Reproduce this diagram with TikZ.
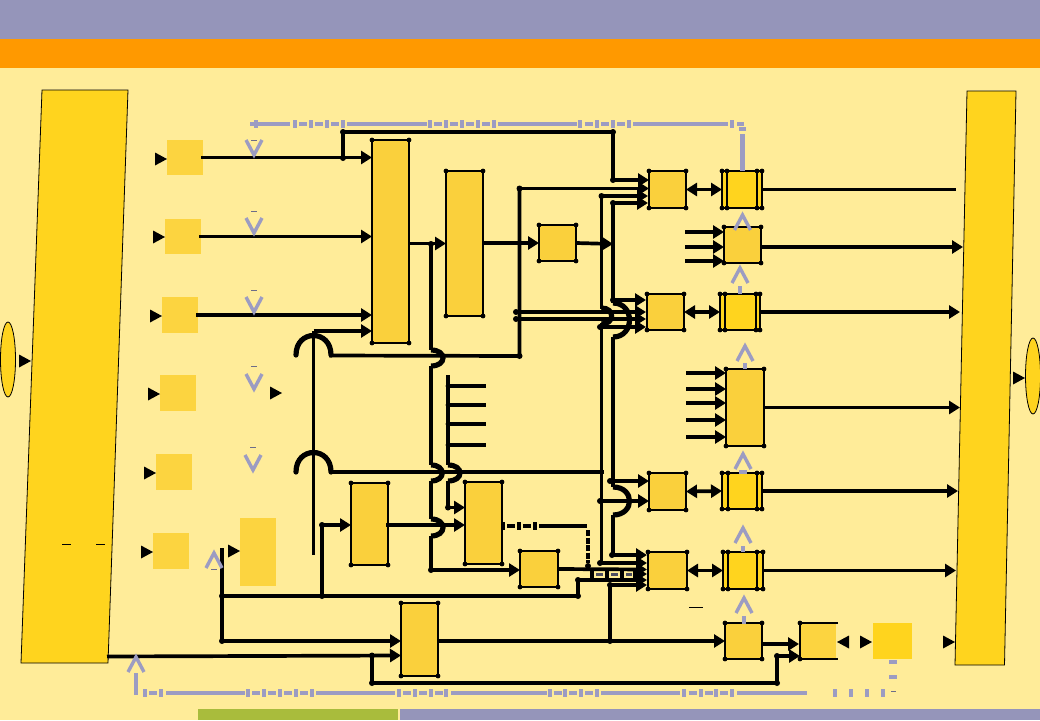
\documentclass[tikz,border=0pt]{standalone}
\usetikzlibrary{arrows.meta,shapes.geometric}
\definecolor{bgc}{HTML}{FFEC99}
\definecolor{bandc}{HTML}{9595BA}
\definecolor{orangec}{HTML}{FF9900}
\definecolor{greenc}{HTML}{A9BC3C}
\definecolor{barc}{HTML}{FFD41E}
\definecolor{boxc}{HTML}{FAD03C}
\definecolor{inc}{HTML}{FCD440}
\definecolor{gl}{HTML}{9C9CC2}
\tikzset{
 x=1pt,y=-1pt,
 plain/.style={inner sep=0,outer sep=0,fill=inc},
 framed/.style={inner sep=0,outer sep=0,fill=boxc,draw=black,line width=2.3pt},
 framedy/.style={framed,fill=barc},
 wire/.style={draw=black,line width=3.7pt},
 arr/.style={wire,-{Triangle[length=11pt,width=13pt]}},
 darr/.style={wire,{Triangle[length=11pt,width=13pt]}-{Triangle[length=11pt,width=13pt]}},
 hopl/.style={draw=black,line width=5.2pt},
 glong/.style={draw=gl,line width=4pt},
 gtick/.style={draw=gl,line width=4.5pt},
 chev/.style={draw=gl,line width=3.4pt},
 blackd/.style={draw=black,line width=3.7pt},
 thin1/.style={draw=black,line width=.7pt},
 thing/.style={draw=gl!70!black,line width=.7pt},
}
% name, x1,y1,x2,y2, style
\newcommand{\bx}[6]{%
 \pgfmathsetmacro{\cxx}{(#2+#4)/2}\pgfmathsetmacro{\cyy}{(#3+#5)/2}%
 \pgfmathsetmacro{\ww}{#4-#2}\pgfmathsetmacro{\hh}{#5-#3}%
 \node[#6,minimum width=\ww pt,minimum height=\hh pt] (#1) at (\cxx,\cyy) {};}
\newcommand{\cornerdots}[1]{\foreach \a in {north west,north east,south west,south east}{\fill (#1.\a) circle (2.4pt);}}
\newcommand{\dbl}[3]{\draw[line width=2.3pt] ([xshift=#2pt]#1.north west)--([xshift=#2pt]#1.south west) ([xshift=-#3pt]#1.north east)--([xshift=-#3pt]#1.south east);
 \fill ([xshift=#2pt]#1.north west) circle (2.4pt) ([xshift=#2pt]#1.south west) circle (2.4pt) ([xshift=-#3pt]#1.north east) circle (2.4pt) ([xshift=-#3pt]#1.south east) circle (2.4pt);}
\newcommand{\rtri}[2]{\fill (#1,#2-6.5)--(#1+12,#2)--(#1,#2+6.5)--cycle;}
\newcommand{\ltri}[2]{\fill (#1,#2-6.5)--(#1-12,#2)--(#1,#2+6.5)--cycle;}
\newcommand{\jd}[1]{\fill (#1) circle (3pt);}
% vertical hop: x, y1, y2, bulge x
\newcommand{\hopv}[4]{\draw[hopl] (#1,#2) .. controls (#4,#2) and (#4,#3) .. (#1,#3);}
% arch: x1, x2, y
\newcommand{\arch}[3]{\draw[hopl,line cap=round] (#1,#3) .. controls (#1,#3-26) and (#2,#3-26) .. (#2,#3);}
% chevrons: x, ytop, ybottom
\newcommand{\vchev}[3]{\draw[chev] (#1-8,#2)--(#1,#3)--(#1+8,#2);}
\newcommand{\uchev}[3]{\draw[chev] (#1-8,#3)--(#1,#2)--(#1+8,#3);}
\newcommand{\gdash}[2]{\draw[thing] (#1-3,#2)--(#1+3,#2);}
% tick groups: list of x, y
\newcommand{\gticks}[2]{\foreach \t in {#1}{\draw[gtick] (\t,#2-4)--(\t,#2+4);}}
\newcommand{\gdashes}[2]{\foreach \t in {#1}{\draw[glong] (\t-4,#2)--(\t+4,#2);}}
\begin{document}
\begin{tikzpicture}
\useasboundingbox (0,0) rectangle (1040,720);
\fill[bgc] (0,0) rectangle (1040,720);
\fill[bandc] (0,0) rectangle (1040,39);
\fill[orangec] (0,39) rectangle (1040,68);
\fill[greenc] (198,709) rectangle (398,720);
\fill[bandc] (400,709) rectangle (1040,720);
% side bars
\draw[fill=barc,line width=.8pt] (42,90)--(128,90)--(108,663)--(21,663)--cycle;
\draw[fill=barc,line width=.8pt] (967,91)--(1016,91)--(1004.5,665)--(955,665)--cycle;
\node[ellipse,draw,fill=barc,line width=.8pt,inner sep=0,minimum width=15pt,minimum height=75pt] (eL) at (8,359.5) {};
\node[ellipse,draw,fill=barc,line width=.8pt,inner sep=0,minimum width=15pt,minimum height=76pt] (eR) at (1033,376) {};
% input boxes
\bx{in1}{167}{140}{203}{175}{plain}
\bx{in2}{165}{219}{201}{254}{plain}
\bx{in3}{162}{297}{198}{333}{plain}
\bx{in4}{160}{375}{196}{411}{plain}
\bx{in5}{156}{454}{192}{490}{plain}
\bx{in6}{153}{533}{189}{569}{plain}
\bx{tall}{240}{518}{276}{586}{plain}
\bx{P}{873}{623}{912}{659}{plain,fill=barc}
% framed boxes
\bx{A}{372}{140}{409}{343}{framed}
\bx{B}{446}{171}{483}{316}{framed}
\bx{C}{539}{225}{576}{261}{framed}
\bx{D}{649}{171}{686}{208}{framed}
\bx{E}{647}{294}{684}{330}{framed}
\bx{K}{649}{473}{686}{510}{framed}
\bx{L}{648}{552}{687}{589}{framed}
\bx{Q}{351}{483}{388}{565}{framed}
\bx{R}{465}{482}{502}{564}{framed}
\bx{S}{520}{551}{558}{587}{framed}
\bx{T}{401}{603}{438}{676}{framed}
\bx{G}{724}{227}{761}{263}{framed}
\bx{I}{726}{369}{764}{446}{framed}
\bx{N}{725}{623}{762}{659}{framed}
\bx{F}{722}{171}{762}{208}{framedy}
\bx{H}{720}{294}{760}{330}{framedy}
\bx{J}{722}{473}{762}{509}{framedy}
\bx{M}{723}{552}{763}{589}{framedy}
\foreach \n in {A,B,C,D,E,K,L,Q,R,S,T,G,I,N,F,H,J,M}{\cornerdots{\n}}
\dbl{F}{5}{5}\dbl{H}{5}{4}\dbl{J}{6}{5}\dbl{M}{5}{6}
% box O: left, top, bottom edges only
\bx{O}{800}{623}{836}{659}{plain}
\draw[line width=2.3pt] (838,623)--(O.north west)--(O.south west)--(838,659);
\fill (O.north west) circle (2.4pt) (O.south west) circle (2.4pt);
% free triangles
\rtri{19}{361}
\rtri{155}{159}\rtri{153}{237}\rtri{150}{316}\rtri{148}{394}\rtri{144}{473}\rtri{141}{552}
\rtri{228}{551}\rtri{270}{393}
\ltri{849}{642}\rtri{860}{642}\rtri{943}{642}\rtri{1013}{378}
% junction coordinates
\coordinate (a1) at (343,158);\coordinate (a2) at (343,132);\coordinate (a3) at (613,132);\coordinate (a4) at (613,180);
\coordinate (b1) at (519.5,356);\coordinate (b2) at (519.5,188.5);
\coordinate (c1) at (601.5,196);\coordinate (c2) at (613,203);\coordinate (c3) at (613,244);
\coordinate (h1) at (329,355.5);\coordinate (h2) at (329,472);
\coordinate (v1) at (313.5,331);\coordinate (v2) at (313.5,555);
\coordinate (w1) at (431,244);\coordinate (w2) at (431,570);
\coordinate (q1) at (322,525);\coordinate (q2) at (322,596);
\coordinate (r1) at (222,548);\coordinate (r2) at (222,596);\coordinate (r3) at (222,641);
\coordinate (r4) at (578,596);\coordinate (r5) at (578,580);
\coordinate (s1) at (610,585);\coordinate (s2) at (610,641);
\coordinate (u1) at (372,655.5);\coordinate (u2) at (372,683);\coordinate (u3) at (777,683);\coordinate (u4) at (777,656);
\coordinate (l1) at (107,656.5);
\coordinate (Qout) at (386,525);
\coordinate (Gout) at (761,247);
% wires into A
\draw[arr] ([xshift=-2pt]in1.east)--(in1.east-|A.west);
\draw[arr] ([xshift=-2pt]in2.east)--(in2.east-|A.west);
\draw[arr] ([xshift=-2pt]in3.east)--(in3.east-|A.west);
\draw[arr] (v1)--(v1-|A.west);
\draw[wire] (v1)--(v2);
\jd{a1}\jd{a2}\jd{a3}\jd{a4}
\draw[wire] (a1)--(a2)--(a3)--(a4);
\draw[arr] (a4)--(a4-|D.west);
\arch{296}{331}{355}\arch{296}{331}{472}
% bus y=355
\draw[wire] (h1)--(b1)--(b2);\jd{b1}\jd{b2}
\draw[arr] (b2)--(b2-|D.west);
\draw[wire] (h2)--(604,472);
% A -> B
\draw[arr] (A.east|-B.west)--(B.west);\jd{w1}
\draw[wire] (w1)--(431,350) (431,366)--(431,465) (431,481)--(431,519) (431,536)--(w2);
\hopv{431}{350}{366}{447}\hopv{431}{465}{481}{446}\hopv{431}{519}{536}{447}
\jd{w2}
\draw[arr] (w2)--(w2-|S.west);
\draw[arr] (B.east|-C.west)--(C.west);
\draw[arr] (C.east)--(c3);
% comb
\draw[wire] (448,375)--(448,465) (448,481)--(448,507.5);
\hopv{448}{465}{481}{464}
\foreach \y in {386,405,424,445}{\draw[wire] (448,\y)--(486,\y);\fill (448,\y) circle (2.4pt);}
\jd{448,507.5}
\draw[arr] (448,507.5)--(465,507.5);
% Q
\draw[arr] (q1)--(q1-|Q.west);\jd{q1}
\draw[wire] (q1)--(q2);\jd{q2}
\draw[arr] (Qout)--(Qout-|R.west);
\draw[wire] (r1)--(r3);\jd{r2}\jd{r3}
\draw[wire] (r2)--(r4)--(r5);\jd{r4}\jd{r5}
\draw[arr] (r5)--(647,580);
\draw[arr] (r3)--(r3-|T.west);
% T and lower bus
\draw[arr] (l1)--(u1-|T.west);
\draw[wire] (u1)--(u2)--(u3)--(u4);\jd{u1}\jd{u2}\jd{u3}\jd{u4}
\draw[arr] (u4)--(u4-|O.west);
\draw[arr] (T.east|-N.west)--(N.west);\jd{s2}
\draw[wire] (s2)--(s1);\jd{s1}
\draw[arr] (s1)--(647,585);
\draw[arr] (762,644)--(799,644);
% vertical buses right
\draw[wire] (c1)--(601.5,309) (601.5,323)--(601.5,563);\jd{c1}
\draw[arr] (c1)--(648,196);
\hopv{601.5}{308}{324}{615}
\draw[wire] (c2)--(613,303) (613,337)--(613,487) (613,515)--(613,555);\jd{c2}
\draw[arr] (c2)--(648,203);
\hopv{613}{303}{337}{635}
\hopv{613}{487}{515}{635}
% arrows into E
\draw[arr] (613,300)--(646,300);\jd{613,300}
\draw[arr] (516,312)--(646,312);\jd{516,312}
\draw[arr] (516,319)--(646,319);\jd{516,319}
\draw[arr] (600,327)--(646,327);\jd{600,327}
% arrows into K
\draw[arr] (610,481)--(K.west|-610,481);\jd{610,481}
\draw[arr] (598,501)--(K.west|-598,501);\jd{600,501}
% arrows into L
\draw[arr] (612,555)--(647,555);\jd{612,555}
\draw[arr] (600,563)--(647,563);\jd{600,563}
\draw[arr] (S.east)--(647,569.5);
\draw[arr] (640,574)--(647,574);
% dashed from R
\foreach \t in {503,519,535}{\draw[line width=4.5pt] (\t,522)--(\t,530);}
\draw[blackd] (507,526)--(515,526) (523,526)--(531,526) (539,526)--(587,526);
\draw[line width=4.5pt,dash pattern=on 6pt off 1.5pt] (588,530)--(588,563);
\jd{588,566}
\foreach \t in {592,607,622,635}{\draw[line width=3.7pt] (\t,569)--(\t,580);}
\draw[line width=3pt,draw=gl!50!black] (596,574.5)--(603,574.5) (611,574.5)--(618,574.5) (626,574.5)--(632,574.5);
% bidirectional
\draw[darr] (D.east)--(F.west);
\draw[darr] (E.east)--(H.west);
\draw[darr] (K.east)--(J.west);
\draw[darr] (L.east)--(M.west);
% outputs
\draw[wire] (F.east)--(956,189.5);
\draw[arr] (Gout)--(963,247);
\draw[arr] (H.east)--(960,312);
\draw[arr] (I.east)--(960,407.5);
\draw[arr] (J.east)--(958,491);
\draw[arr] (M.east)--(956,570.5);
% G / I inputs
\foreach \y in {232,247,261}{\draw[arr] (685,\y)--(G.west|-685,\y);}
\foreach \y in {373,389,403,420,437}{\draw[arr] (686,\y)--(I.west|-686,\y);}
% thin marks
\draw[thin1] (62,544)--(71,544) (96,544)--(105,544) (689,607)--(703,607);
% chevrons
\vchev{254}{140}{155}\vchev{254}{218}{233}\vchev{254}{297}{312}\vchev{254}{374}{389}\vchev{253}{455}{470}
\gdash{254}{140}\gdash{254}{211}\gdash{254}{290}\gdash{254}{366}\gdash{253}{447}
\uchev{214}{553}{568}\gdash{214}{569}
\uchev{136}{657}{672}
\uchev{742.5}{215}{230}
\uchev{740}{268}{283}\uchev{745}{346}{361}\uchev{743}{454}{469}\uchev{743}{528}{543}\uchev{744}{598}{613}
\draw[gtick] (740,286)--(740,294) (745,363)--(745,369) (743,546)--(743,552) (744,616)--(744,624);
\draw[gtick] (739,472)--(747,472);
% top feedback
\draw[glong] (250,124)--(290,124);
\draw[gtick] (256,120)--(256,128);
\gticks{295,311,327,343}{124}\gdashes{303,319,335}{124}
\draw[glong] (347,124)--(427,124);
\gticks{430,446,462,478,494}{124}\gdashes{438,454,470,486}{124}
\draw[glong] (498,124)--(577,124);
\gticks{580,597,613,629}{124}\gdashes{588.5,605,621}{124}
\draw[glong] (633,124)--(728,124);
\gticks{732}{124}
\draw[glong] (737,124)--(744,124) (739,129)--(746,129);
\draw[gtick] (742.5,134)--(742.5,171);
% bottom feedback
\draw[gtick] (136,673)--(136,695);
\gticks{145,161}{693}\gdashes{153}{693}
\draw[glong] (166,693)--(245,693);
\gticks{248,264,280,296,312}{693}\gdashes{256,272,288,304}{693}
\draw[glong] (316,693)--(395,693);
\gticks{399,415,431,446}{693}\gdashes{407,423,438.5}{693}
\draw[glong] (451,693)--(547,693);
\gticks{550,565,581,597}{693}\gdashes{557.5,573,589}{693}
\draw[glong] (601,693)--(680,693);
\gticks{684,701,716,732}{693}\gdashes{692.5,708.5,724}{693}
\draw[glong] (737,693)--(807,693);
\gticks{835,851,867,883}{693}
\draw[thing] (891,691)--(896,691);
\draw[glong] (889,662)--(897,662) (889,677)--(897,677);
\end{tikzpicture}
\end{document}
